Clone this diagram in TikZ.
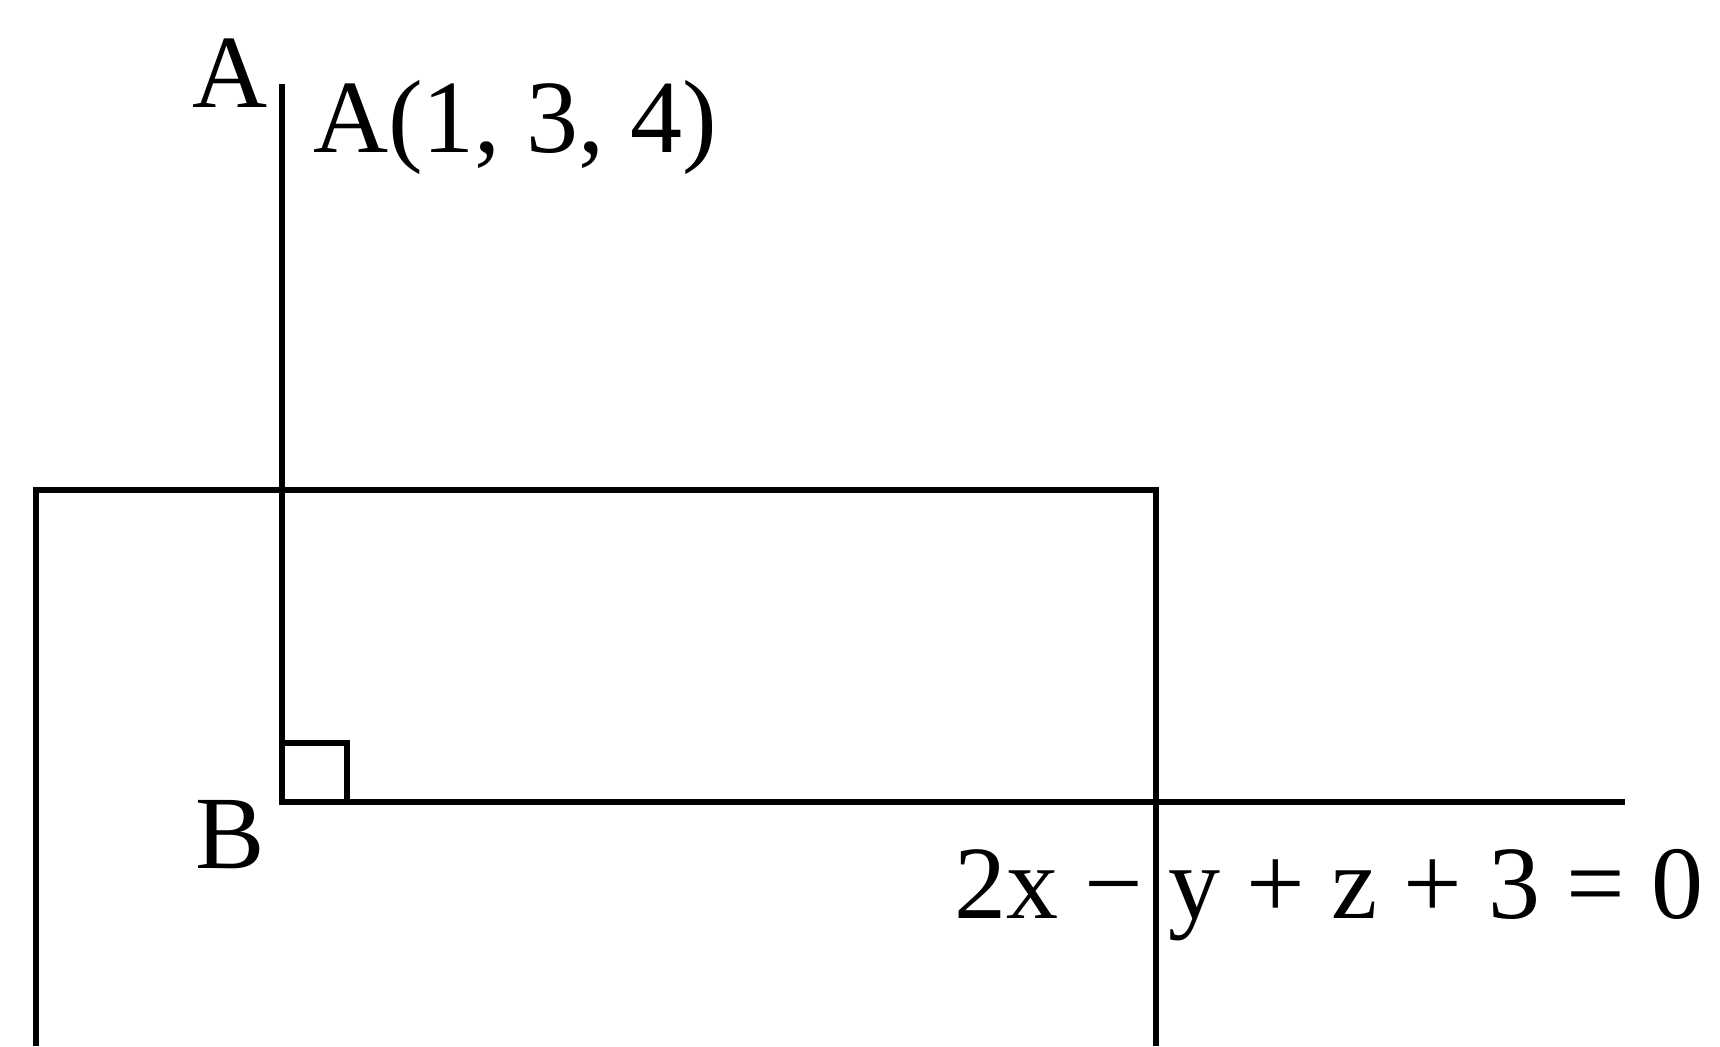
\documentclass[tikz,border=0pt]{standalone}
\usepackage{fontspec}
\setmainfont{Liberation Serif}
\begin{document}
\begin{tikzpicture}[x=1pt,y=-1pt,
  ln/.style={line width=6.5pt,line cap=butt,line join=miter},
  lbl/.style={inner sep=0pt,anchor=base west,font=\fontsize{104}{110}\selectfont}]
\useasboundingbox (0,0) rectangle (1720,1046);
% points
\coordinate (A) at (282,84);
\coordinate (B) at (282,802);
\coordinate (R) at (1625,802);
\coordinate (TL) at (36,490);
\coordinate (TR) at (1156,490);
\coordinate (BL) at (36,1046);
\coordinate (BR) at (1156,1046);
\coordinate (S1) at (282,743);
\coordinate (S2) at (347,743);
\coordinate (S3) at (347,802);
% plane (rectangle)
\draw[ln] (BL) -- (TL) -- (TR) -- (BR);
% perpendicular AB and line in plane through B
\draw[ln] (A) -- (B) -- (R);
% right-angle mark
\draw[ln] (S1) -- (S2) -- (S3);
% labels
\node[lbl] (la) at (192,108) {A};
\node[lbl] (lA) at (313,152) {A(1, 3, 4)};
\node[lbl] (lb) at (195,868) {B};
\node[lbl] (eq) at (954,918) {2x − y + z + 3 = 0};
\end{tikzpicture}
\end{document}
